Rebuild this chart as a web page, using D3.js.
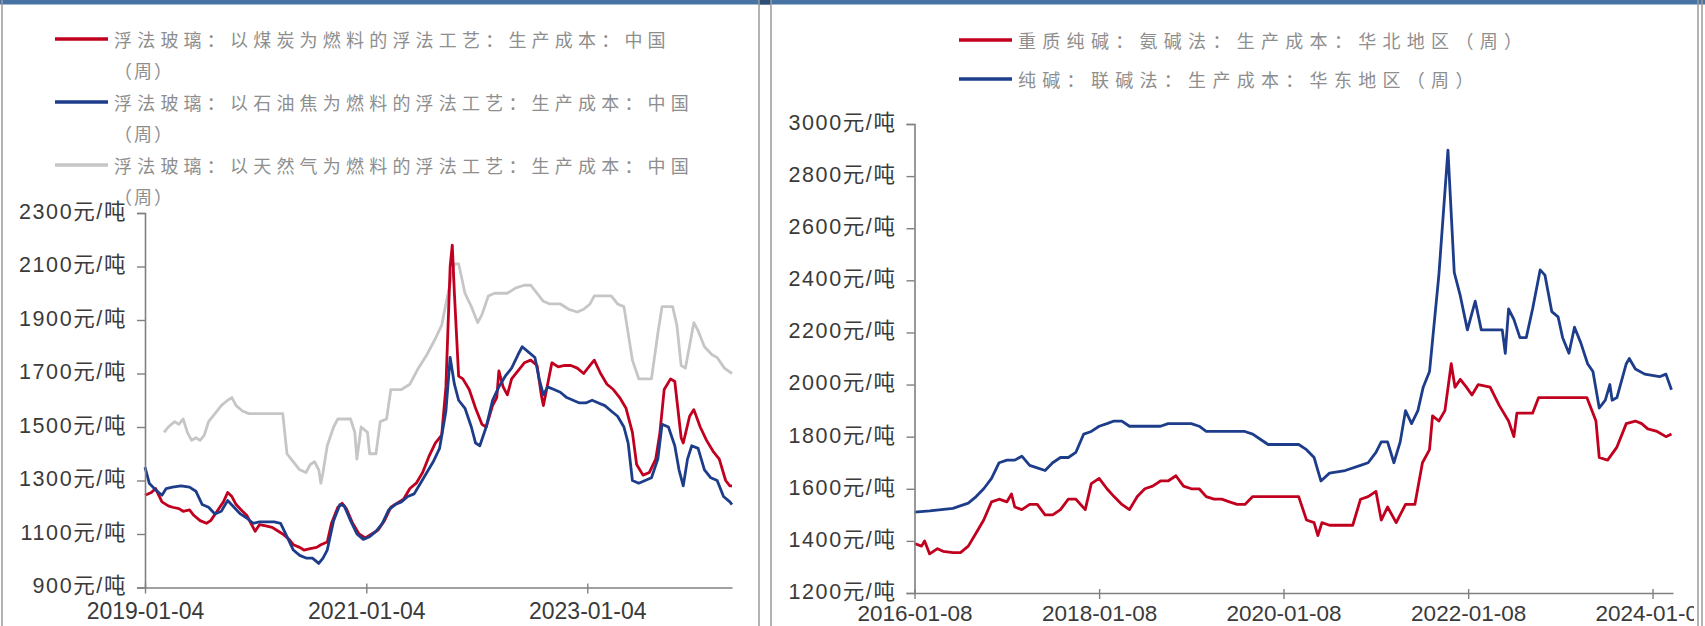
<!DOCTYPE html>
<html><head><meta charset="utf-8">
<script src="https://cdn.jsdelivr.net/npm/d3@7"></script>
<style>
html,body{margin:0;padding:0;background:#fff;}
svg{display:block;}
</style></head>
<body>
<svg id="c" width="1705" height="626"></svg>
<script>
// ---------------- DATA ----------------
const leftLegend = [
  "浮法玻璃：以煤炭为燃料的浮法工艺：生产成本：中国",
  "浮法玻璃：以石油焦为燃料的浮法工艺：生产成本：中国",
  "浮法玻璃：以天然气为燃料的浮法工艺：生产成本：中国"
];
const leftLegendWrap = "（周）";
const rightLegend = [
  "重质纯碱：氨碱法：生产成本：华北地区（周）",
  "纯碱：联碱法：生产成本：华东地区（周）"
];
const leftYTicks = [900,1100,1300,1500,1700,1900,2100,2300];
const leftXTicks = ["2019-01-04","2021-01-04","2023-01-04"];
const rightYTicks = [1200,1400,1600,1800,2000,2200,2400,2600,2800,3000];
const rightXTicks = ["2016-01-08","2018-01-08","2020-01-08","2022-01-08","2024-01-08"];
const unit = "元/吨";

const glassCoal = [
["2019-01-04",1245],["2019-01-25",1255],["2019-02-08",1270],["2019-03-01",1220],["2019-03-22",1205],
["2019-04-05",1200],["2019-04-26",1195],["2019-05-10",1185],["2019-05-31",1190],["2019-06-14",1170],
["2019-07-05",1150],["2019-07-26",1140],["2019-08-09",1150],["2019-08-30",1185],["2019-09-20",1220],
["2019-10-04",1255],["2019-10-18",1240],["2019-11-01",1210],["2019-11-22",1185],["2019-12-06",1170],
["2019-12-20",1140],["2020-01-03",1110],["2020-01-17",1135],["2020-02-07",1130],["2020-02-28",1125],
["2020-03-13",1115],["2020-04-03",1100],["2020-04-24",1080],["2020-05-08",1060],["2020-05-29",1050],
["2020-06-12",1040],["2020-07-03",1045],["2020-07-24",1050],["2020-08-07",1060],["2020-08-28",1070],
["2020-09-11",1140],["2020-10-02",1200],["2020-10-16",1215],["2020-10-30",1195],["2020-11-20",1140],
["2020-12-11",1100],["2021-01-01",1085],["2021-01-22",1100],["2021-02-12",1115],["2021-03-05",1150],
["2021-03-26",1200],["2021-04-16",1215],["2021-05-07",1230],["2021-05-28",1270],["2021-06-18",1290],
["2021-07-09",1330],["2021-07-30",1390],["2021-08-20",1440],["2021-09-10",1470],["2021-09-24",1650],
["2021-10-08",2100],["2021-10-15",2180],["2021-10-22",2000],["2021-11-05",1690],["2021-11-19",1680],
["2021-12-10",1640],["2021-12-31",1570],["2022-01-21",1510],["2022-02-04",1500],["2022-02-25",1580],
["2022-03-11",1610],["2022-03-18",1710],["2022-04-01",1650],["2022-04-15",1620],["2022-04-29",1680],
["2022-05-20",1710],["2022-06-10",1740],["2022-07-01",1750],["2022-07-22",1730],["2022-08-05",1620],
["2022-08-12",1580],["2022-08-26",1660],["2022-09-09",1740],["2022-09-30",1725],["2022-10-21",1730],
["2022-11-11",1730],["2022-12-02",1720],["2022-12-23",1700],["2023-01-13",1730],["2023-01-27",1750],
["2023-02-17",1700],["2023-03-10",1660],["2023-03-31",1640],["2023-04-21",1610],["2023-05-12",1570],
["2023-06-02",1480],["2023-06-16",1360],["2023-07-07",1320],["2023-07-28",1330],["2023-08-18",1380],
["2023-09-01",1480],["2023-09-15",1640],["2023-10-06",1680],["2023-10-20",1670],["2023-11-10",1460],
["2023-11-17",1440],["2023-12-08",1540],["2023-12-22",1565],["2024-01-12",1500],["2024-02-02",1450],
["2024-02-23",1410],["2024-03-15",1380],["2024-04-05",1300],["2024-04-19",1280],["2024-04-26",1280]
];
const glassPetcoke = [
["2019-01-04",1350],["2019-01-18",1290],["2019-02-08",1265],["2019-03-01",1245],["2019-03-15",1270],
["2019-04-05",1275],["2019-05-03",1280],["2019-05-31",1275],["2019-06-21",1260],["2019-07-12",1210],
["2019-08-02",1200],["2019-08-23",1175],["2019-09-13",1185],["2019-10-04",1225],["2019-10-25",1200],
["2019-11-15",1175],["2019-12-06",1160],["2019-12-27",1140],["2020-01-17",1145],["2020-02-07",1145],
["2020-03-06",1145],["2020-03-27",1140],["2020-04-17",1090],["2020-05-08",1040],["2020-05-29",1020],
["2020-06-19",1010],["2020-07-10",1010],["2020-07-31",990],["2020-08-14",1010],["2020-08-28",1040],
["2020-09-18",1150],["2020-10-09",1210],["2020-10-23",1205],["2020-11-13",1150],["2020-12-04",1100],
["2020-12-25",1080],["2021-01-15",1090],["2021-02-05",1110],["2021-02-26",1140],["2021-03-19",1190],
["2021-04-09",1210],["2021-04-30",1220],["2021-05-21",1240],["2021-06-11",1250],["2021-07-02",1290],
["2021-07-23",1330],["2021-08-13",1370],["2021-09-03",1420],["2021-09-24",1560],["2021-10-08",1760],
["2021-10-22",1660],["2021-11-05",1600],["2021-11-26",1570],["2021-12-17",1500],["2021-12-31",1440],
["2022-01-14",1430],["2022-02-04",1500],["2022-02-25",1600],["2022-03-18",1650],["2022-04-08",1690],
["2022-04-29",1720],["2022-05-20",1770],["2022-06-03",1800],["2022-06-24",1780],["2022-07-15",1760],
["2022-07-29",1680],["2022-08-12",1620],["2022-08-26",1650],["2022-09-16",1640],["2022-10-07",1630],
["2022-10-28",1610],["2022-11-18",1600],["2022-12-09",1590],["2022-12-30",1590],["2023-01-20",1600],
["2023-02-10",1590],["2023-03-03",1580],["2023-03-24",1560],["2023-04-14",1540],["2023-05-05",1500],
["2023-05-19",1440],["2023-06-02",1300],["2023-06-23",1290],["2023-07-14",1300],["2023-08-04",1310],
["2023-08-25",1380],["2023-09-08",1510],["2023-09-29",1500],["2023-10-20",1430],["2023-11-03",1340],
["2023-11-17",1280],["2023-12-01",1380],["2023-12-15",1430],["2024-01-05",1420],["2024-01-26",1340],
["2024-02-16",1310],["2024-03-08",1300],["2024-03-29",1240],["2024-04-19",1220],["2024-04-26",1210]
];
const glassGas = [
["2019-03-08",1480],["2019-03-22",1500],["2019-04-12",1520],["2019-04-26",1510],["2019-05-10",1530],
["2019-05-24",1480],["2019-06-07",1450],["2019-06-21",1460],["2019-07-05",1450],["2019-07-19",1470],
["2019-08-02",1520],["2019-08-23",1550],["2019-09-13",1580],["2019-10-04",1600],["2019-10-18",1610],
["2019-11-01",1580],["2019-11-22",1560],["2019-12-13",1550],["2020-01-03",1550],["2020-02-07",1550],
["2020-03-13",1550],["2020-04-03",1550],["2020-04-17",1400],["2020-05-08",1370],["2020-05-29",1340],
["2020-06-19",1330],["2020-07-03",1360],["2020-07-17",1370],["2020-07-31",1340],["2020-08-07",1290],
["2020-08-14",1330],["2020-08-28",1430],["2020-09-18",1500],["2020-10-02",1530],["2020-10-23",1530],
["2020-11-13",1530],["2020-11-27",1480],["2020-12-04",1380],["2020-12-18",1500],["2021-01-08",1480],
["2021-01-15",1400],["2021-02-05",1400],["2021-02-19",1520],["2021-03-12",1530],["2021-03-26",1640],
["2021-04-30",1640],["2021-05-28",1660],["2021-06-25",1720],["2021-07-23",1770],["2021-08-20",1830],
["2021-09-10",1880],["2021-10-01",2000],["2021-10-22",2110],["2021-11-05",2110],["2021-11-26",2000],
["2021-12-17",1950],["2022-01-07",1890],["2022-01-21",1920],["2022-02-11",1990],["2022-03-04",2000],
["2022-04-15",2000],["2022-05-13",2020],["2022-06-10",2030],["2022-07-01",2030],["2022-07-22",2000],
["2022-08-12",1970],["2022-09-02",1960],["2022-10-07",1960],["2022-11-04",1940],["2022-12-02",1930],
["2022-12-23",1940],["2023-01-13",1960],["2023-01-27",1990],["2023-02-17",1990],["2023-03-24",1990],
["2023-04-14",1960],["2023-05-05",1950],["2023-05-19",1850],["2023-06-02",1750],["2023-06-23",1680],
["2023-08-04",1680],["2023-08-25",1850],["2023-09-08",1950],["2023-10-13",1950],["2023-10-27",1880],
["2023-11-10",1730],["2023-11-24",1720],["2023-12-22",1890],["2024-01-05",1860],["2024-01-26",1800],
["2024-02-20",1770],["2024-03-08",1760],["2024-04-01",1720],["2024-04-26",1700]
];
const sodaAmmonia = [
["2016-01-08",1390],["2016-02-05",1380],["2016-02-17",1400],["2016-03-08",1350],["2016-04-08",1370],
["2016-04-30",1360],["2016-06-08",1355],["2016-07-08",1355],["2016-08-08",1380],["2016-09-08",1430],
["2016-10-08",1480],["2016-11-08",1550],["2016-12-08",1560],["2017-01-08",1550],["2017-01-26",1580],
["2017-02-08",1530],["2017-03-08",1520],["2017-04-08",1540],["2017-05-08",1540],["2017-06-08",1500],
["2017-07-08",1500],["2017-08-08",1520],["2017-09-08",1560],["2017-10-08",1560],["2017-11-14",1520],
["2017-12-08",1620],["2018-01-08",1640],["2018-02-08",1600],["2018-03-08",1570],["2018-04-08",1540],
["2018-05-08",1520],["2018-06-08",1570],["2018-07-08",1600],["2018-08-08",1610],["2018-09-08",1630],
["2018-10-08",1630],["2018-11-08",1650],["2018-12-08",1610],["2019-01-08",1600],["2019-02-08",1600],
["2019-03-08",1570],["2019-04-08",1560],["2019-05-08",1560],["2019-06-08",1550],["2019-07-08",1540],
["2019-08-08",1540],["2019-09-08",1570],["2020-03-08",1570],["2020-04-08",1480],["2020-05-08",1470],
["2020-05-23",1420],["2020-06-08",1470],["2020-07-08",1460],["2020-10-08",1460],["2020-11-08",1560],
["2020-12-08",1570],["2021-01-08",1590],["2021-01-29",1480],["2021-02-23",1530],["2021-03-29",1470],
["2021-05-05",1540],["2021-06-11",1540],["2021-07-11",1700],["2021-08-08",1750],["2021-08-20",1880],
["2021-09-14",1860],["2021-10-08",1900],["2021-11-02",2080],["2021-11-17",1990],["2021-12-08",2020],
["2022-01-01",1990],["2022-01-23",1960],["2022-02-17",2000],["2022-04-05",1990],["2022-05-11",1920],
["2022-06-17",1860],["2022-07-08",1800],["2022-07-20",1890],["2022-09-20",1890],["2022-10-14",1950],
["2023-04-23",1950],["2023-05-29",1860],["2023-06-11",1720],["2023-07-14",1710],["2023-08-20",1760],
["2023-09-26",1850],["2023-11-01",1860],["2023-11-26",1850],["2023-12-20",1830],["2024-01-26",1820],
["2024-03-01",1800],["2024-03-23",1810]
];
const sodaJoint = [
["2016-01-08",1510],["2016-03-08",1515],["2016-06-08",1525],["2016-08-08",1545],["2016-09-08",1570],
["2016-10-08",1600],["2016-11-08",1640],["2016-12-08",1700],["2017-01-08",1710],["2017-02-08",1710],
["2017-03-08",1725],["2017-04-08",1690],["2017-05-08",1680],["2017-06-08",1670],["2017-07-08",1700],
["2017-08-08",1720],["2017-09-08",1720],["2017-10-08",1740],["2017-11-08",1810],["2017-12-08",1820],
["2018-01-08",1840],["2018-02-08",1850],["2018-03-08",1860],["2018-04-08",1860],["2018-05-08",1840],
["2018-09-08",1840],["2018-10-08",1850],["2019-01-08",1850],["2019-02-08",1840],["2019-03-08",1820],
["2019-08-08",1820],["2019-09-08",1810],["2019-10-08",1790],["2019-11-08",1770],["2020-03-08",1770],
["2020-04-08",1750],["2020-05-08",1720],["2020-06-04",1630],["2020-07-08",1660],["2020-09-08",1670],
["2020-11-08",1690],["2020-12-08",1700],["2021-01-08",1740],["2021-01-29",1780],["2021-02-23",1780],
["2021-03-20",1700],["2021-04-14",1780],["2021-05-05",1900],["2021-05-29",1850],["2021-06-23",1900],
["2021-07-14",1990],["2021-08-08",2050],["2021-08-20",2170],["2021-09-14",2420],["2021-10-20",2900],
["2021-11-14",2430],["2021-12-08",2340],["2022-01-05",2210],["2022-02-05",2320],["2022-03-01",2210],
["2022-05-23",2210],["2022-06-04",2120],["2022-06-17",2290],["2022-07-08",2250],["2022-08-01",2180],
["2022-08-26",2180],["2022-09-20",2290],["2022-10-20",2440],["2022-11-08",2420],["2022-12-05",2280],
["2022-12-30",2260],["2023-01-17",2180],["2023-02-11",2120],["2023-03-05",2220],["2023-03-30",2160],
["2023-04-26",2080],["2023-05-17",2050],["2023-06-11",1910],["2023-07-05",1940],["2023-07-23",2000],
["2023-08-01",1940],["2023-08-20",1950],["2023-09-26",2080],["2023-10-08",2100],["2023-11-01",2060],
["2023-12-08",2040],["2024-02-05",2030],["2024-03-01",2040],["2024-03-23",1980]
];

// ---------------- DRAW ----------------
const parse = d3.timeParse("%Y-%m-%d");
const svg = d3.select("#c");
const RED = "#c0001e", BLUE = "#1d3d8b", GRAY = "#c6c6c6";
const NUMFONT = "'Liberation Sans', Arial, 'Noto Sans CJK SC', sans-serif";
const CJKFONT = "'Noto Sans CJK SC', sans-serif";

svg.append("rect").attr("width",1705).attr("height",626).attr("fill","#fff");

svg.append("defs").append("clipPath").attr("id","rclip")
  .append("rect").attr("x",772).attr("y",0).attr("width",922).attr("height",626);

function drawChart(g, cfg){
  const x = d3.scaleTime().domain(cfg.xDomain.map(parse)).range(cfg.xRange);
  const y = d3.scaleLinear().domain(cfg.yDomain).range(cfg.yRange);
  const line = d3.line().x(d=>x(parse(d[0]))).y(d=>y(d[1]));
  cfg.series.forEach(s=>{
    g.append("path").datum(s.data).attr("d",line)
      .attr("fill","none").attr("stroke",s.color).attr("stroke-width",2.8)
      .attr("stroke-linejoin","round");
  });
  const ya = g.append("g").attr("transform",`translate(${cfg.xRange[0]},0)`)
    .call(d3.axisLeft(y).tickValues(cfg.yTicks).tickFormat(d=>d+unit).tickSize(8).tickPadding(10));
  ya.select(".domain").attr("stroke","#808080").attr("stroke-width",1.6);
  ya.selectAll(".tick line").attr("stroke","#808080").attr("stroke-width",1.4);
  ya.selectAll("text").attr("font-family",NUMFONT).attr("font-size",21.5)
    .attr("letter-spacing","1.6px").attr("fill","#3a3a3a").attr("dy","0.25em");
  const xa = g.append("g").attr("transform",`translate(0,${cfg.yRange[0]})`)
    .call(d3.axisBottom(x).tickValues(cfg.xTicks.map(parse)).tickFormat(d3.timeFormat("%Y-%m-%d"))
      .tickSizeInner(6).tickSizeOuter(0).tickPadding(cfg.xPad));
  xa.select(".domain").attr("stroke","#808080").attr("stroke-width",1.6);
  xa.selectAll(".tick line").attr("stroke","#808080").attr("stroke-width",1.4).attr("y1",-4);
  xa.selectAll("text").attr("font-family",NUMFONT).attr("font-size",cfg.xFont).attr("fill","#3a3a3a");
}

const gl = svg.append("g");
drawChart(gl, {
  xDomain:["2019-01-04","2024-04-26"], xRange:[145,732],
  yDomain:[900,2300], yRange:[587.5,213],
  yTicks:leftYTicks, xTicks:leftXTicks, xPad:9, xFont:23,
  series:[{data:glassGas,color:GRAY},{data:glassCoal,color:RED},{data:glassPetcoke,color:BLUE}]
});
const gr = svg.append("g").attr("clip-path","url(#rclip)");
drawChart(gr, {
  xDomain:["2016-01-08","2024-03-29"], xRange:[914.5,1673],
  yDomain:[1200,3000], yRange:[593,124],
  yTicks:rightYTicks, xTicks:rightXTicks, xPad:6, xFont:22.5,
  series:[{data:sodaAmmonia,color:RED},{data:sodaJoint,color:BLUE}]
});

const legColors = [RED,BLUE,GRAY];
leftLegend.forEach((t,i)=>{
  const yy = 39 + i*63;
  svg.append("line").attr("x1",55).attr("x2",108).attr("y1",yy).attr("y2",yy)
    .attr("stroke",legColors[i]).attr("stroke-width",3.5);
  svg.append("text").attr("x",114).attr("y",yy).attr("dominant-baseline","central")
    .attr("font-family",CJKFONT).attr("font-size",18).attr("letter-spacing","5.2px")
    .attr("fill","#8e8e8e").text(t);
  svg.append("text").attr("x",114).attr("y",yy+31).attr("dominant-baseline","central")
    .attr("font-family",CJKFONT).attr("font-size",18).attr("letter-spacing","2px")
    .attr("fill","#8e8e8e").text(leftLegendWrap);
});
const rColors = [RED,BLUE];
rightLegend.forEach((t,i)=>{
  const yy = 40 + i*39;
  svg.append("line").attr("x1",959).attr("x2",1012).attr("y1",yy).attr("y2",yy)
    .attr("stroke",rColors[i]).attr("stroke-width",3.5);
  svg.append("text").attr("x",1018).attr("y",yy).attr("dominant-baseline","central")
    .attr("font-family",CJKFONT).attr("font-size",18).attr("letter-spacing","6.3px")
    .attr("fill","#8e8e8e").text(t);
});

svg.append("rect").attr("x",0).attr("y",0).attr("width",1705).attr("height",4.5).attr("fill","#4673a3");
svg.append("rect").attr("x",759).attr("y",0).attr("width",12).attr("height",4.5).attr("fill","#2c4f7a");
[2,759,771,1698,1702].forEach(xx=>{
  svg.append("line").attr("x1",xx).attr("x2",xx).attr("y1",0).attr("y2",626)
    .attr("stroke","#9a9a9a").attr("stroke-width",1.5);
});
</script>
</body></html>
